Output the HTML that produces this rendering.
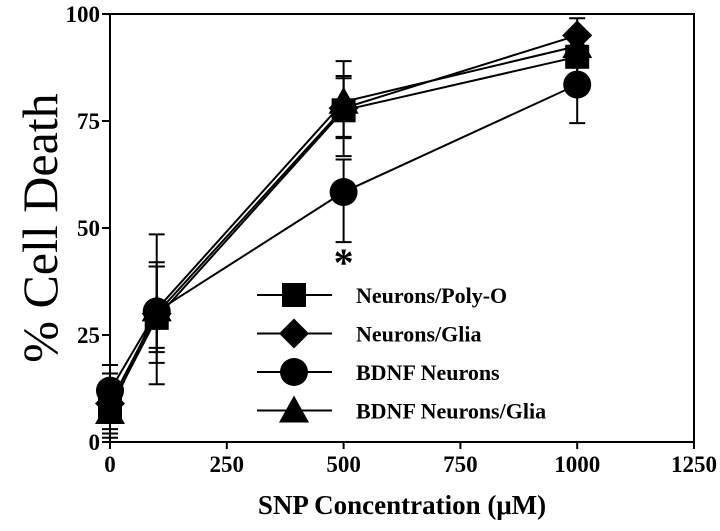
<!DOCTYPE html>
<html><head><meta charset="utf-8"><style>
html,body{margin:0;padding:0;background:#fff;}
svg{display:block;font-family:"Liberation Serif",serif;}
</style></head><body>
<svg id="chart" width="720" height="531" viewBox="0 0 720 531">
<g id="axes"></g><g id="series"></g><g id="legend"></g>
<text x="40" y="228" transform="rotate(-90 40 228)" text-anchor="middle" dominant-baseline="central" font-size="50">% Cell Death</text>
<text x="402" y="514" text-anchor="middle" font-size="27" font-weight="bold">SNP Concentration (μM)</text>
</svg>
<script>
const xValues = [0, 100, 500, 1000];
const seriesNames = ["Neurons/Poly-O", "Neurons/Glia", "BDNF Neurons", "BDNF Neurons/Glia"];
const seriesMarkers = ["square", "diamond", "circle", "triangle"];
const polyO = [8, 29, 77.5, 90];
const glia = [9, 30, 78, 95];
const bdnf = [12, 30.5, 58.4, 83.5];
const bdnfGlia = [7, 31, 79.5, 92.5];
const errHigh = [[16, 41, 85.5, 94], [18, 48.5, 89, 99], [18, 42, 66, 92], [16, 41, 85, 96]];
const errLow = [[2, 22, 71.3, 86], [0, 18.5, 66.8, 90], [3, 13.5, 46.7, 74.5], [1, 21, 71, 88]];
const xTicks = [0, 250, 500, 750, 1000, 1250];
const yTicks = [0, 25, 50, 75, 100];
const allSeries = [polyO, glia, bdnf, bdnfGlia];

const NS = "http://www.w3.org/2000/svg";
const X0 = 110, X1 = 694, Y0 = 442, Y1 = 14;
const sx = v => X0 + (v / 1250) * (X1 - X0);
const sy = v => Y0 - (v / 100) * (Y0 - Y1);
function mk(tag, attrs, parent) {
  const e = document.createElementNS(NS, tag);
  for (const k in attrs) e.setAttribute(k, attrs[k]);
  parent.appendChild(e); return e;
}
const axes = document.getElementById("axes");
const frame = mk("rect", {x: X0, y: Y1, width: X1 - X0, height: Y0 - Y1, fill: "none", stroke: "#000", "stroke-width": 2}, axes);


xTicks.forEach(t => {
  const l = mk("line", {x1: sx(t), x2: sx(t), y1: Y0, y2: Y0 + 7, stroke: "#000", "stroke-width": 2}, axes);
  
  
  const tx = mk("text", {x: sx(t), y: Y0 + 30, "text-anchor": "middle", "font-size": 23, "font-weight": "bold"}, axes);
  tx.textContent = t;
  
  
});
yTicks.forEach(t => {
  const l = mk("line", {x1: X0 - 8, x2: X0, y1: sy(t), y2: sy(t), stroke: "#000", "stroke-width": 2}, axes);
  
  
  const tx = mk("text", {x: X0 - 10, y: sy(t) + 8, "text-anchor": "end", "font-size": 23, "font-weight": "bold"}, axes);
  tx.textContent = t;
  
  
});
function marker(type, cx, cy, parent) {
  let e;
  if (type === "square") e = mk("rect", {x: cx - 12, y: cy - 12, width: 24, height: 24}, parent);
  else if (type === "diamond") e = mk("polygon", {points: `${cx},${cy-15} ${cx+15},${cy} ${cx},${cy+15} ${cx-15},${cy}`}, parent);
  else if (type === "circle") e = mk("circle", {cx: cx, cy: cy, r: 14}, parent);
  else e = mk("polygon", {points: `${cx},${cy-15} ${cx+15},${cy+12} ${cx-15},${cy+12}`}, parent);
  e.setAttribute("fill", "#000");
  return e;
}
const sg = document.getElementById("series");
allSeries.forEach((vals, si) => {
  const g = mk("g", {}, sg);
  
  
  xValues.forEach((x, i) => {
    const cx = sx(x);
    const eb = mk("path", {d: `M${cx},${sy(errLow[si][i])}V${sy(errHigh[si][i])}M${cx-8},${sy(errLow[si][i])}h16M${cx-8},${sy(errHigh[si][i])}h16`, stroke: "#000", "stroke-width": 2, fill: "none"}, g);
    
    
  });
  const pl = mk("polyline", {points: xValues.map((x, i) => sx(x) + "," + sy(vals[i])).join(" "), fill: "none", stroke: "#000", "stroke-width": 2}, g);
  
  
  xValues.forEach((x, i) => {
    const m = marker(seriesMarkers[i === i ? si : si], sx(x), sy(vals[i]), g);
    
    
  });
});
const ast = mk("text", {x: sx(500), y: sy(bdnf[2]) + 84, "text-anchor": "middle", "font-size": 40, "font-weight": "bold"}, sg);
ast.textContent = "*";


const lg = document.getElementById("legend");


seriesNames.forEach((n, i) => {
  const y = 295 + i * 38.5;
  const g = mk("g", {}, lg);
  
  
  mk("line", {x1: 257, x2: 332, y1: y, y2: y, stroke: "#000", "stroke-width": 2}, g);
  marker(seriesMarkers[i], 294, y, g);
  const t = mk("text", {x: 356, y: y + 8, "font-size": 22, "font-weight": "bold"}, g);
  t.textContent = n;
});
</script>
</body></html>
